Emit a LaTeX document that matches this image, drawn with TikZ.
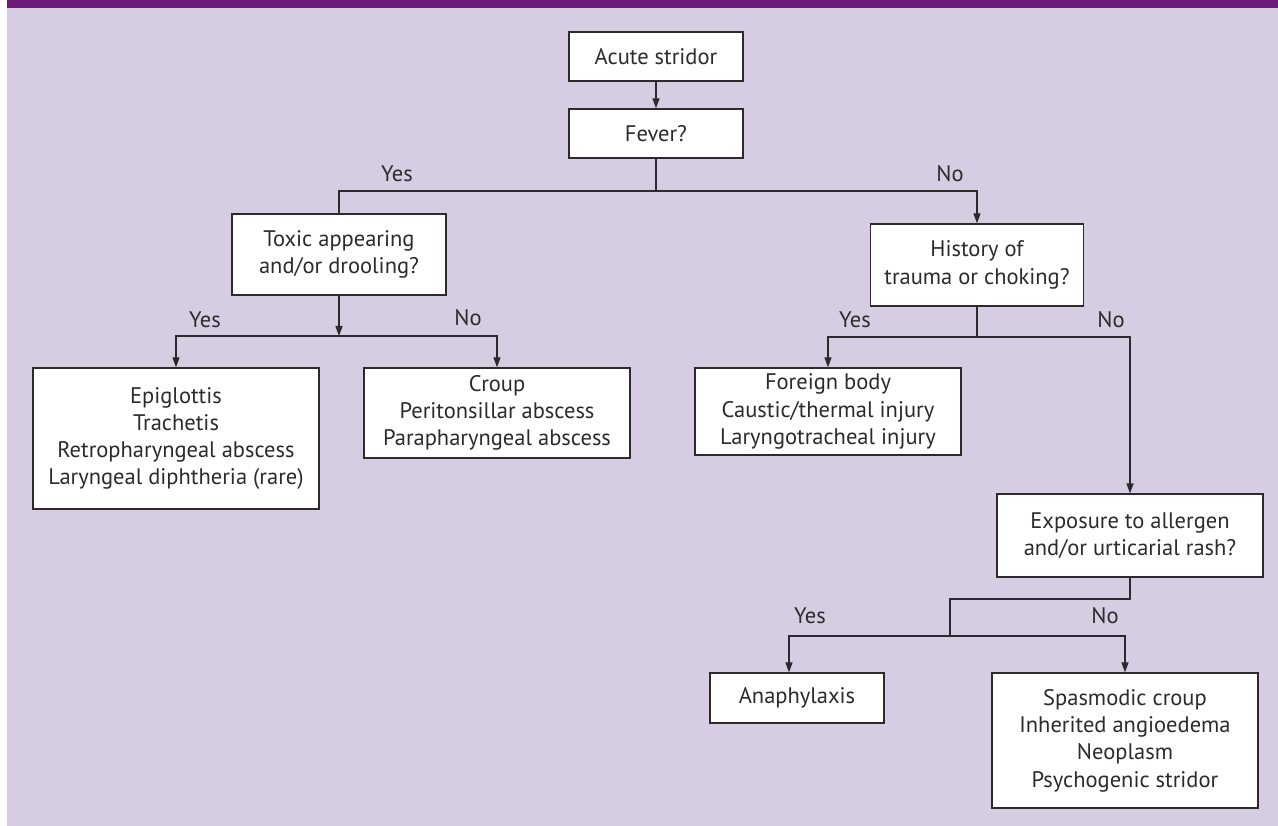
\documentclass[tikz,border=0pt]{standalone}
\usepackage{fontspec}
\setmainfont{PT Sans}
\usetikzlibrary{arrows.meta,calc}
\definecolor{barpurple}{HTML}{6B1C78}
\definecolor{lav}{HTML}{D7CDE2}
\definecolor{linec}{HTML}{2E2A2C}
\newcommand{\boxfont}{\fontsize{22.5}{27.3}\selectfont}
\begin{document}
\begin{tikzpicture}[x=1pt,y=-1pt,
  box/.style={draw=linec, fill=white, line width=1.3pt, inner sep=0pt, align=center, font=\boxfont, text=linec},
  conn/.style={draw=linec, line width=1.3pt},
  arr/.style={conn, -{Triangle[length=10pt,width=7pt]}},
  lbl/.style={font=\boxfont, text=linec, inner sep=0pt}]
\useasboundingbox (0,0) rectangle (1278,826);
\fill[white] (0,0) rectangle (1278,826);
\fill[lav] (7,8) rectangle (1278,826);
\fill[barpurple] (7,0) rectangle (1278,8);

\node[box, minimum width=174pt, minimum height=49pt] (acute) at (656,56.5) {Acute stridor};
\node[box, minimum width=174pt, minimum height=49pt] (fever) at (656,133.5) {Fever?};
\node[box, minimum width=214pt, minimum height=81pt] (toxic) at (339,254.5) {Toxic appearing\\and/or drooling?};
\node[box, minimum width=213pt, minimum height=82pt] (history) at (977,265) {History of\\trauma or choking?};
\node[box, minimum width=286pt, minimum height=141pt] (epig) at (176,438.5) {Epiglottis\\Trachetis\\Retropharyngeal abscess\\Laryngeal diphtheria (rare)};
\node[box, minimum width=266pt, minimum height=90pt] (croup) at (497,413) {Croup\\Peritonsillar abscess\\Parapharyngeal abscess};
\node[box, minimum width=266pt, minimum height=87pt] (foreign) at (828,411.5) {Foreign body\\Caustic/thermal injury\\Laryngotracheal injury};
\node[box, minimum width=266pt, minimum height=83pt] (expo) at (1130,535.5) {Exposure to allergen\\and/or urticarial rash?};
\node[box, minimum width=174pt, minimum height=50pt] (anaph) at (797,698) {Anaphylaxis};
\node[box, minimum width=266pt, minimum height=135pt] (psych) at (1125,740.5) {Spasmodic croup\\Inherited angioedema\\Neoplasm\\Psychogenic stridor};

\coordinate (j1) at (656,191);
\coordinate (j2) at (339,336);
\coordinate (j3) at (977,337);
\coordinate (e1) at (1130,599);
\coordinate (e2) at (950,599);
\coordinate (j4) at (950,636);

\draw[arr] (acute) -- (fever);
\draw[conn] (fever) -- (j1);
\draw[conn] (j1) -| (toxic.north);
\draw[arr] (j1) -| (history.north);
\draw[arr] (toxic) -- (j2);
\draw[arr] (j2) -| (epig.north);
\draw[arr] (j2) -| (croup.north);
\draw[conn] (history) -- (j3);
\draw[arr] (j3) -| (foreign.north);
\draw[arr] (j3) -| (expo.north);
\draw[conn] (expo.south) -- (e1) -- (e2) -- (j4);
\draw[arr] (j4) -| ([xshift=-8pt]anaph.north);
\draw[arr] (j4) -| (psych.north);

\node[lbl] (l1) at (397,174) {Yes};
\node[lbl] (l2) at (950,174) {No};
\node[lbl] (l3) at (205,320) {Yes};
\node[lbl] (l4) at (468,318) {No};
\node[lbl] (l5) at (855,320) {Yes};
\node[lbl] (l6) at (1111,320) {No};
\node[lbl] (l7) at (810,616) {Yes};
\node[lbl] (l8) at (1105,616) {No};
\end{tikzpicture}
\end{document}
